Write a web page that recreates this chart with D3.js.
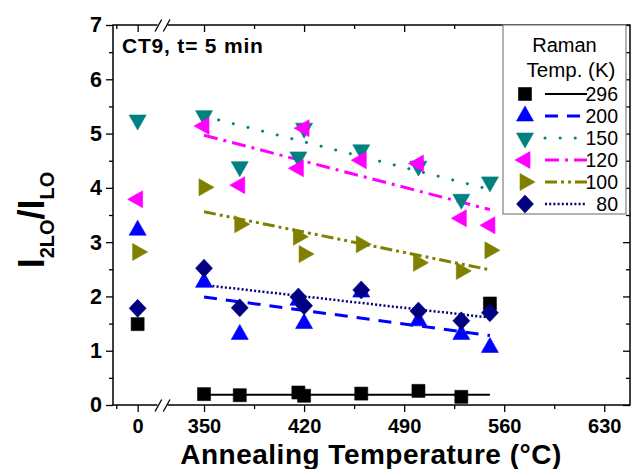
<!DOCTYPE html>
<html>
<head>
<meta charset="utf-8">
<script src="https://cdn.jsdelivr.net/npm/d3@7"></script>
<style>
  html, body { margin: 0; padding: 0; background: #fff; }
  svg { display: block; font-family: "Liberation Sans", Arial, Helvetica, sans-serif; }
</style>
</head>
<body>
<svg id="chart" width="632" height="469"></svg>
<script>
// As-grown sample (plotted at 0) and annealing temperatures (°C)
const asGrownTemp = 0;
const annealTemps = [350, 375, 416, 420, 460, 500, 530, 550];

// Raman measurement temperatures (K)
const ramanTemps = ["296", "200", "150", "120", "100", "80"];

// I2LO/ILO ratio of the as-grown sample, one per Raman temperature
const asGrownRatio = [1.49, 3.22, 5.25, 3.79, 2.82, 1.78];

// I2LO/ILO ratio after annealing, one array per Raman temperature
const ratio296 = [0.20, 0.18, 0.23, 0.17, 0.21, 0.26, 0.15, 1.87];
const ratio200 = [2.26, 1.30, 1.93, 1.50, 2.08, 1.55, 1.30, 1.06];
const ratio150 = [5.33, 4.39, 4.57, 5.10, 4.70, 4.40, 3.79, 4.11];
const ratio120 = [5.14, 4.05, 4.36, 5.10, 4.51, 4.45, 3.44, 3.31];
const ratio100 = [4.01, 3.33, 3.10, 2.78, 2.96, 2.62, 2.47, 2.85];
const ratio80  = [2.52, 1.79, 1.99, 1.83, 2.12, 1.73, 1.55, 1.70];

// Linear trend lines between 350 and 550 °C
const fitTemps = [350, 550];
const fitStart = [0.19, 1.99, 5.32, 4.97, 3.56, 2.21];
const fitEnd   = [0.19, 1.28, 3.97, 3.60, 2.49, 1.61];

// Axis ticks
const yMajorTicks = [0, 1, 2, 3, 4, 5, 6, 7];
const yMinorTicks = [0.5, 1.5, 2.5, 3.5, 4.5, 5.5, 6.5];
const xLeftMajorTicks = [0];
const xLeftMinorTicks = [-15];
const xRightMajorTicks = [350, 420, 490, 560, 630];
const xRightMinorTicks = [385, 455, 525, 595];

const seriesValues = [ratio296, ratio200, ratio150, ratio120, ratio100, ratio80];
const colors = ["#000000", "#0000ff", "#008080", "#ff00ff", "#808000", "#000080"];
const shapes = ["square", "up", "down", "left", "right", "diamond"];
const dashes = [null, "13,9", "0.1,15", "14,6,3,6", "12,4,3,4,3,4", "2,2.2"];
const lineWidths = [2, 3, 3, 3, 3, 2.5];
const lineCaps = ["butt", "butt", "round", "butt", "butt", "butt"];

const svg = d3.select("#chart");

const plot = { left: 113, right: 630, top: 25, bottom: 405, breakX: 163 };

// Broken x axis: a short segment around 0 and the main annealing range
const xL = d3.scaleLinear().domain([-17.3, 17.8]).range([plot.left, plot.breakX]);
const xR = d3.scaleLinear().domain([321.3, 648]).range([plot.breakX, plot.right]);
const y = d3.scaleLinear().domain([0, 7]).range([plot.bottom, plot.top]);

// Marker paths (triangles centred on their centroid)
function markerPath(shape) {
  const w = 17, h = 15;
  switch (shape) {
    case "square": { const s = 6.5; return `M${-s},${-s}H${s}V${s}H${-s}Z`; }
    case "up":    return `M0,${-2*h/3}L${w/2},${h/3}L${-w/2},${h/3}Z`;
    case "down":  return `M0,${2*h/3}L${w/2},${-h/3}L${-w/2},${-h/3}Z`;
    case "left":  return `M${-2*h/3},0L${h/3},${-w/2}L${h/3},${w/2}Z`;
    case "right": return `M${2*h/3},0L${-h/3},${-w/2}L${-h/3},${w/2}Z`;
    case "diamond": return `M0,-9L8.5,0L0,9L-8.5,0Z`;
  }
}

// ---- axes ----
const tickStyle = g => {
  g.select(".domain").remove();
  g.selectAll("line").attr("stroke", "#000").attr("stroke-width", 1.3);
  g.selectAll("text").attr("fill", "#000").attr("font-size", 20).attr("font-weight", "bold");
};

// bottom: major (labelled) and minor ticks, outward
svg.append("g").attr("transform", `translate(0,${plot.bottom})`)
  .call(d3.axisBottom(xL).tickValues(xLeftMajorTicks).tickSize(7).tickPadding(7).tickFormat(d3.format("d")))
  .call(tickStyle);
svg.append("g").attr("transform", `translate(0,${plot.bottom})`)
  .call(d3.axisBottom(xL).tickValues(xLeftMinorTicks).tickSize(4).tickFormat(""))
  .call(tickStyle);
svg.append("g").attr("transform", `translate(0,${plot.bottom})`)
  .call(d3.axisBottom(xR).tickValues(xRightMajorTicks).tickSize(7).tickPadding(7).tickFormat(d3.format("d")))
  .call(tickStyle);
svg.append("g").attr("transform", `translate(0,${plot.bottom})`)
  .call(d3.axisBottom(xR).tickValues(xRightMinorTicks).tickSize(4).tickFormat(""))
  .call(tickStyle);

// top: inward ticks, no labels
[[xL, xLeftMajorTicks, 7], [xL, xLeftMinorTicks, 4], [xR, xRightMajorTicks, 7], [xR, xRightMinorTicks, 4]]
  .forEach(([sc, tv, sz]) => {
    svg.append("g").attr("transform", `translate(0,${plot.top})`)
      .call(d3.axisTop(sc).tickValues(tv).tickSize(-sz).tickFormat(""))
      .call(tickStyle);
  });

// left: outward ticks with labels
svg.append("g").attr("transform", `translate(${plot.left},0)`)
  .call(d3.axisLeft(y).tickValues(yMajorTicks).tickSize(7).tickPadding(4).tickFormat(d3.format("d")))
  .call(tickStyle)
  .call(g => g.selectAll("text").attr("font-size", 21.5));
svg.append("g").attr("transform", `translate(${plot.left},0)`)
  .call(d3.axisLeft(y).tickValues(yMinorTicks).tickSize(4).tickFormat(""))
  .call(tickStyle);

// right: inward ticks
svg.append("g").attr("transform", `translate(${plot.right},0)`)
  .call(d3.axisRight(y).tickValues(yMajorTicks).tickSize(-7).tickFormat(""))
  .call(tickStyle);
svg.append("g").attr("transform", `translate(${plot.right},0)`)
  .call(d3.axisRight(y).tickValues(yMinorTicks).tickSize(-4).tickFormat(""))
  .call(tickStyle);

// frame
svg.append("rect")
  .attr("x", plot.left).attr("y", plot.top)
  .attr("width", plot.right - plot.left).attr("height", plot.bottom - plot.top)
  .attr("fill", "none").attr("stroke", "#000").attr("stroke-width", 1.5);

// axis break marks on bottom and top
[plot.bottom, plot.top].forEach(yy => {
  const bx = 155;
  svg.append("path")
    .attr("d", `M${bx + 2.5},${yy}L${bx + 12.5},${yy}`)
    .attr("stroke", "#fff").attr("stroke-width", 2.5);
  svg.append("path")
    .attr("d", `M${bx},${yy + 6.5}L${bx + 6.7},${yy - 5.5}M${bx + 8.3},${yy + 6.5}L${bx + 15},${yy - 5.5}`)
    .attr("stroke", "#000").attr("stroke-width", 1.3).attr("fill", "none");
});

// ---- trend lines ----
const line = d3.line().x(d => xR(d[0])).y(d => y(d[1]));
ramanTemps.forEach((t, i) => {
  svg.append("path")
    .attr("d", line([[fitTemps[0], fitStart[i]], [fitTemps[1], fitEnd[i]]]))
    .attr("fill", "none")
    .attr("stroke", colors[i])
    .attr("stroke-width", lineWidths[i])
    .attr("stroke-linecap", lineCaps[i])
    .attr("stroke-dasharray", dashes[i]);
});

// ---- data markers ----
ramanTemps.forEach((t, i) => {
  const g = svg.append("g");
  g.append("path")
    .attr("d", markerPath(shapes[i]))
    .attr("transform", `translate(${xL(asGrownTemp)},${y(asGrownRatio[i])})`)
    .attr("fill", colors[i]).attr("stroke", colors[i]).attr("stroke-width", 0.6);
  g.selectAll("path.pt").data(seriesValues[i].map((v, j) => [annealTemps[j], v]))
    .join("path").attr("class", "pt")
    .attr("d", markerPath(shapes[i]))
    .attr("transform", d => `translate(${xR(d[0])},${y(d[1])})`)
    .attr("fill", colors[i]).attr("stroke", colors[i]).attr("stroke-width", 0.6);
});

// ---- annotation ----
svg.append("text")
  .attr("x", 122).attr("y", 53)
  .attr("font-size", 21).attr("font-weight", "bold").attr("letter-spacing", 0.8)
  .text("CT9, t= 5 min");

// ---- legend ----
const leg = svg.append("g");
leg.append("rect")
  .attr("x", 503).attr("y", 25).attr("width", 123).attr("height", 189)
  .attr("fill", "#fff").attr("stroke", "#808080").attr("stroke-width", 1.2);
leg.append("text").attr("x", 564.5).attr("y", 51.5).attr("text-anchor", "middle")
  .attr("font-size", 20).text("Raman");
leg.append("text").attr("x", 571).attr("y", 77).attr("text-anchor", "middle")
  .attr("font-size", 20.5).text("Temp. (K)");
ramanTemps.forEach((t, i) => {
  const ly = 94 + i * 22;
  leg.append("path").attr("d", markerPath(shapes[i]))
    .attr("transform", `translate(525,${ly})`)
    .attr("fill", colors[i]).attr("stroke", colors[i]).attr("stroke-width", 0.6);
  leg.append("path").attr("d", `M545,${ly}H587`)
    .attr("stroke", colors[i]).attr("stroke-width", lineWidths[i])
    .attr("stroke-linecap", lineCaps[i])
    .attr("stroke-dasharray", dashes[i]);
  leg.append("text").attr("x", 618).attr("y", ly + 7).attr("text-anchor", "end")
    .attr("font-size", 19.5).text(t);
});

// ---- axis titles ----
svg.append("text")
  .attr("x", 371).attr("y", 463.5).attr("text-anchor", "middle")
  .attr("font-size", 28).attr("font-weight", "bold").attr("letter-spacing", 0.5)
  .text("Annealing Temperature (°C)");

const yt = svg.append("text")
  .attr("transform", "translate(44,220) rotate(-90)")
  .attr("text-anchor", "middle")
  .attr("font-weight", "bold").attr("font-size", 36);
yt.append("tspan").text("I");
yt.append("tspan").attr("font-size", 20).attr("dy", 10).text("2LO");
yt.append("tspan").attr("dy", -10).text("/I");
yt.append("tspan").attr("font-size", 20).attr("dy", 10).text("LO");
</script>
</body>
</html>
